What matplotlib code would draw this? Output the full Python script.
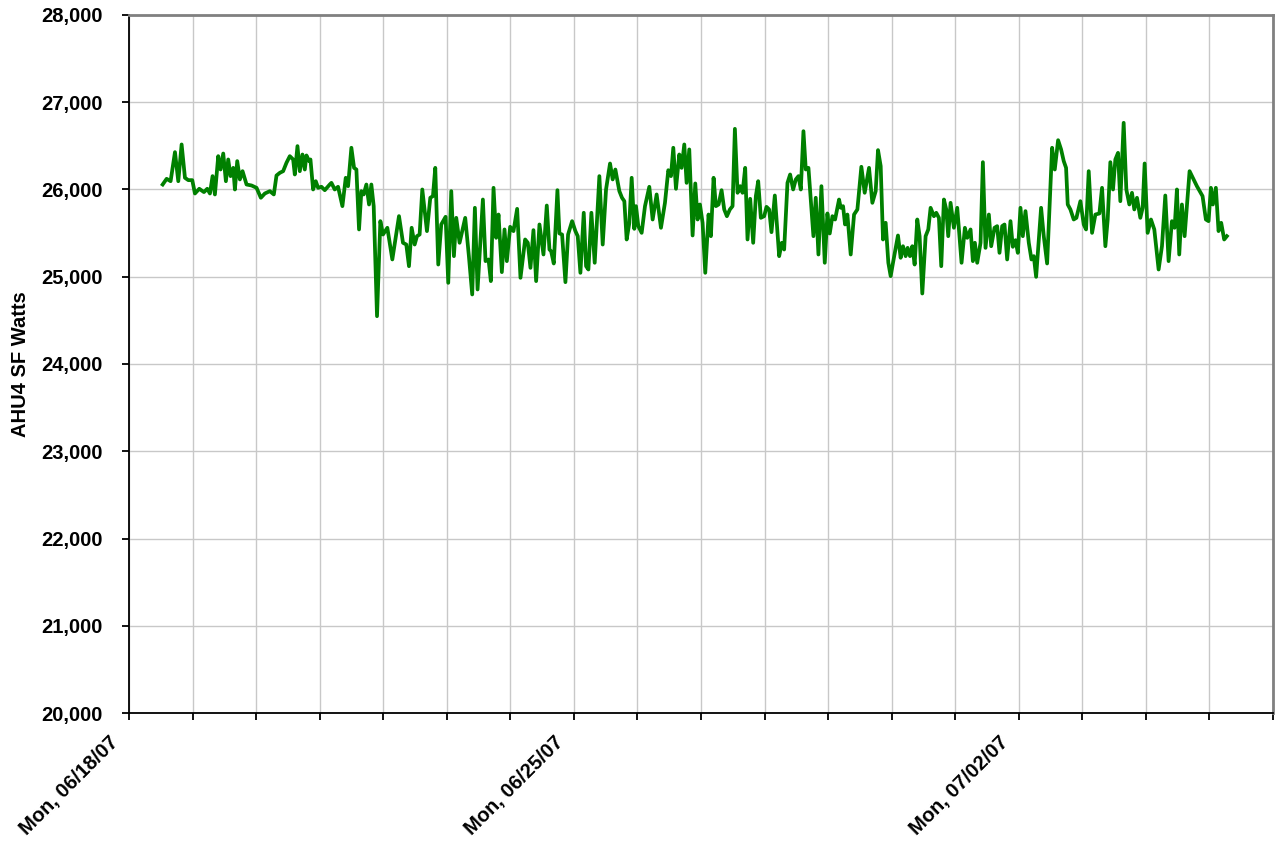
import pandas as pd
import matplotlib
matplotlib.use("Agg")
import matplotlib.pyplot as plt
import matplotlib.dates as mdates
from matplotlib.ticker import FuncFormatter, MultipleLocator
from matplotlib.transforms import ScaledTranslation

plt.rcParams['font.family'] = ['Liberation Sans', 'DejaVu Sans']

# hours since Mon 06/18/07 00:00
hours = [
    12.7, 14.2, 15.7, 17.35, 18.6, 19.86, 21.12, 22.38, 23.88, 24.89, 26.53, 28.29, 29.54, 30.55,
    31.55, 32.43, 33.69, 34.57, 35.58, 36.58, 37.46, 38.34, 39.35, 39.98, 40.86, 41.86, 42.87,
    44.38, 46.26, 48.15, 49.78, 51.29, 53.18, 54.68, 55.69, 56.95, 58.2, 59.46, 60.72, 61.98,
    62.6, 63.61, 64.49, 65.49, 66.38, 67.0, 68.01, 68.51, 69.52, 70.52, 71.4, 72.66, 73.92, 75.8,
    76.43, 77.69, 78.94, 80.58, 81.84, 82.72, 83.97, 84.98, 85.86, 86.86, 87.74, 88.62, 89.63,
    90.64, 91.51, 92.4, 93.65, 94.91, 95.91, 97.55, 99.43, 101.95, 103.46, 104.71, 105.72,
    106.73, 107.86, 108.74, 109.74, 110.75, 112.51, 113.77, 114.77, 115.65, 116.78, 117.91,
    119.55, 120.55, 121.69, 122.69, 123.57, 124.83, 126.96, 128.35, 129.6, 130.61, 131.62,
    133.63, 134.63, 135.77, 136.64,
    137.65, 138.65, 139.53, 140.79, 141.8, 142.68, 143.93, 145.19, 146.57, 147.83, 149.59,
    150.6, 151.6, 152.73, 153.74, 155.0, 156.51, 157.76, 158.77, 159.4, 160.4, 161.78, 162.54,
    163.54, 164.8, 165.81, 167.32, 168.57, 169.45, 170.46, 171.72, 172.6, 173.48, 174.61,
    175.86, 177.62, 178.88, 180.14, 181.65, 182.65, 183.66, 185.17, 186.17, 187.05, 187.93,
    188.94, 189.82, 190.82, 191.45, 192.33, 193.59, 194.85, 196.48, 197.74, 199.25, 200.88,
    202.39, 203.65,
    204.66, 205.54, 206.55, 207.8, 208.68, 209.69, 210.57, 211.57, 212.83, 213.84, 214.72,
    215.6, 216.6, 217.61, 218.86, 219.74, 220.75, 221.63, 222.64, 223.77, 224.77, 225.78,
    226.91, 227.92, 228.8, 229.8, 230.81, 231.69, 232.69, 233.57, 234.58, 235.71, 236.72,
    237.6, 238.6, 239.86, 240.74, 241.74, 242.62, 243.88, 245.52, 246.52, 247.4, 248.66,
    249.66, 250.8, 251.8, 252.81, 253.69, 254.69, 255.57, 256.58, 257.46, 258.46, 259.34,
    260.35, 261.48, 262.74, 263.74, 264.62, 265.63, 266.63, 268.14,
    268.77, 269.65, 270.4, 271.28, 272.54, 273.8, 275.06, 276.56, 277.82, 279.46, 280.71,
    281.97, 282.85, 283.86, 284.74, 285.74, 286.75, 287.63, 288.51, 290.39, 291.4, 292.28,
    293.28, 294.04, 294.92, 295.8, 296.68, 297.68, 298.56, 299.57, 300.83, 301.83, 302.71,
    303.97, 304.85, 305.85, 306.73, 307.74, 308.62, 309.37, 310.25, 311.51, 312.77, 314.4,
    315.66, 316.54, 317.8, 318.68, 319.43, 320.31, 321.57, 322.45, 323.45, 324.71, 325.59,
    326.85, 327.85, 328.73, 329.74, 330.62, 331.62,
    332.88, 333.76, 334.77, 335.65, 336.65, 337.53, 338.54, 339.79, 340.8, 341.68, 342.56,
    344.44, 345.45, 346.71, 348.59, 349.6, 350.86, 351.99, 352.99, 353.87, 354.5, 355.51,
    356.76, 357.77, 359.28, 360.54, 361.42, 362.42, 363.68, 364.94, 366.45, 367.45, 368.71,
    369.59, 370.59, 371.6, 372.48, 373.49, 374.36, 375.62, 376.63, 377.76, 378.76, 379.64,
    380.65, 381.91, 382.79, 383.54, 384.67, 385.93, 387.19, 388.82, 390.08, 391.34, 392.59,
    393.85, 394.86, 395.73,
    396.61, 397.62, 398.63, 400.51, 403.28, 405.41, 406.67, 407.68, 408.56, 409.31, 410.44,
    411.45, 412.45, 413.58, 414.59,
]

watts = [
    26057, 26122, 26095, 26428, 26095, 26516, 26134, 26107, 26107, 25954, 26008, 25970, 26008, 25954,
    26153, 25943, 26382, 26229, 26412, 26095, 26344, 26153, 26248, 26000, 26325, 26115, 26210,
    26057, 26046, 26019, 25905, 25954, 25981, 25943, 26160, 26191, 26210, 26306, 26382, 26344,
    26172, 26497, 26210, 26401, 26229, 26390, 26325, 26344, 26000, 26095, 26019, 26031, 25992, 26057,
    26076, 26000, 26031, 25809, 26134, 26038, 26478, 26248, 26229, 25542, 25981, 25943, 26057,
    25828, 26057, 25809, 24548, 25637, 25484, 25561, 25198, 25695, 25389, 25369, 25121,
    25561, 25369, 25465, 25484, 26000, 25523, 25905, 25924, 26248, 25140, 25599,
    25687, 24930, 25981, 25236, 25675, 25389, 25675, 25236, 24797, 25790, 24854,
    25885, 25179, 25198, 24950,
    26019, 25446, 25713, 25053, 25542, 25179, 25572, 25523, 25778, 24988, 25427,
    25389, 25102, 25534, 24950, 25599, 25255, 25816, 25312, 25293, 25152, 25992, 25496,
    25484, 24938, 25484, 25637, 25523, 25465, 25045, 25733, 25121, 25083, 25733,
    25160, 26153, 25369, 26000, 26298, 26115, 26229, 25981, 25905, 25866, 25427,
    25618, 26134, 25549, 25809, 25580, 25503, 25809, 26031, 25656, 25943, 25561,
    25847, 26221,
    26153, 26478, 26008, 26401, 26248, 26516, 26076, 26459, 25473, 26069, 25656,
    25828, 25618, 25045, 25713, 25465, 26134, 25809, 25828, 25992, 25771, 25694,
    25771, 25809, 26695, 25962, 26038, 25962, 26248, 25427, 25893, 25389, 25924,
    26095, 25675, 25694, 25801, 25771, 25511, 25931, 25236, 25389, 25312, 26076,
    26172, 26000, 26115, 26153, 26000, 26668, 26229, 26248, 25885, 25465, 25905,
    25255, 26038, 25160, 25725, 25496, 25694, 25656, 25885,
    25790, 25809, 25599, 25713, 25255, 25713, 25771, 26260, 25962, 26248, 25847,
    25981, 26451, 26268, 25427, 25618, 25160, 25007, 25160, 25473, 25217, 25350,
    25236, 25331, 25236, 25350, 25140, 25656, 25465, 24808, 25465, 25542, 25790,
    25694, 25733, 25675, 25121, 25885, 25771, 25465, 25847, 25561, 25790, 25160,
    25561, 25446, 25542, 25179, 25389, 25160, 25389, 26313, 25331, 25713, 25350,
    25561, 25580, 25274, 25580, 25599, 25198,
    25637, 25343, 25419, 25274, 25790, 25465, 25752, 25389, 25198, 25236, 24999,
    25790, 25465, 25152, 26478, 26229, 26565, 26459, 26325, 26248, 25828, 25771,
    25656, 25675, 25866, 25599, 25542, 26210, 25503, 25713, 25725, 26019, 25350,
    25656, 26313, 26000, 26344, 26420, 25866, 26764, 26000, 25828, 25962, 25771,
    25905, 25675, 25790, 26298, 25503, 25656, 25542, 25083, 25350, 25931, 25179,
    25637, 25561, 26000,
    25255, 25828, 25465, 26210, 26038, 25924, 25656, 25637, 26019, 25828, 26019,
    25523, 25618, 25427, 25465,
]

start = pd.Timestamp("2007-06-18")
times = start + pd.to_timedelta(hours, unit="h")

fig = plt.figure(figsize=(12.75, 8.46), dpi=100)
ax = fig.add_axes([0.1012, 0.1572, 0.8972, 0.8251])

ax.plot(times, watts, color="#008000", linewidth=2.7, solid_joinstyle="round")

ax.set_xlim(pd.Timestamp("2007-06-18"), pd.Timestamp("2007-07-06"))
ax.set_ylim(20000, 28000)

ax.xaxis.set_major_locator(mdates.DayLocator(bymonthday=[18, 25, 2]))
ax.xaxis.set_minor_locator(mdates.DayLocator())
ax.xaxis.set_major_formatter(mdates.DateFormatter("%a, %m/%d/%y"))
ax.yaxis.set_major_locator(MultipleLocator(1000))
ax.yaxis.set_major_formatter(FuncFormatter(lambda v, p: f"{int(v):,}"))

ax.grid(True, which="both", axis="x", color="#c8c8c8", linewidth=1)
ax.grid(True, which="major", axis="y", color="#c8c8c8", linewidth=1)
ax.set_axisbelow(True)

ax.tick_params(axis="y", direction="out", length=5, width=1.3, labelsize=14.5, pad=14)
ax.tick_params(axis="x", which="both", direction="out", length=5, width=1.3, labelsize=14.5, pad=9)
for lbl in ax.get_yticklabels():
    lbl.set_fontweight("bold")
shift = ScaledTranslation(-0.2, 0, fig.dpi_scale_trans)
for lbl in ax.get_xticklabels():
    lbl.set_fontweight("bold")
    lbl.set_rotation(45)
    lbl.set_ha("right")
    lbl.set_va("top")
    lbl.set_rotation_mode("anchor")
    lbl.set_transform(lbl.get_transform() + shift)

ax.spines["left"].set_color("black")
ax.spines["bottom"].set_color("black")
ax.spines["left"].set_linewidth(1.3)
ax.spines["bottom"].set_linewidth(1.3)
ax.spines["top"].set_color("#808080")
ax.spines["right"].set_color("#808080")
ax.spines["top"].set_linewidth(2)
ax.spines["right"].set_linewidth(2)

ax.set_ylabel("AHU4 SF Watts", fontsize=14.5, fontweight="bold", labelpad=8)

fig.savefig("out.png", dpi=100)
